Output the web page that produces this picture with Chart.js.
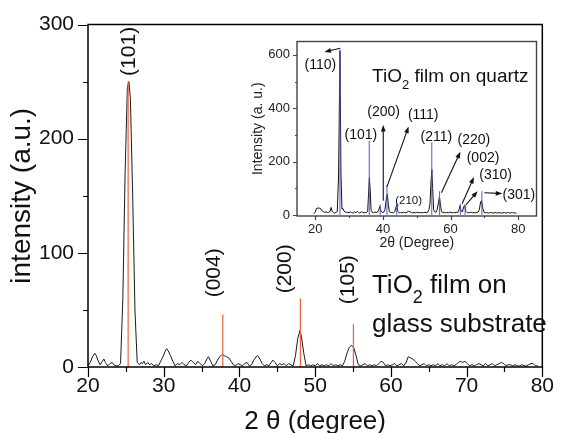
<!DOCTYPE html>
<html lang="en">
<head>
<meta charset="UTF-8">
<title>XRD of TiO2 films</title>
<script src="https://cdn.jsdelivr.net/npm/chart.js"></script>
<style>
    body { margin: 0; background: #fff; }
    .wrap { position: relative; width: 563px; height: 433px; }
    #mainChart { position: absolute; left: 0; top: 0; }
    #insetChart { position: absolute; left: 248px; top: 28px; }
</style>
</head>
<body>
<div class="wrap">
    <canvas id="mainChart" width="563" height="433"></canvas>
    <canvas id="insetChart" width="300" height="228"></canvas>
</div>
<script>
// ---- main pattern: TiO2 film on glass substrate ----
const glassAngle = [20.0, 20.3, 20.6, 20.9, 21.1, 21.3, 21.6, 21.9, 22.1, 22.3, 22.6, 22.9, 23.2, 23.4, 23.7, 24.0, 24.3, 24.6, 24.9, 25.2,
    25.4, 25.6, 25.9, 26.2, 26.5, 26.8, 27.0, 27.2, 27.4, 27.6, 27.9, 28.1, 28.4, 28.7, 29.0, 29.3, 29.6, 29.9, 30.2, 30.4,
    30.6, 30.9, 31.2, 31.5, 31.8, 32.1, 32.4, 32.7, 33.0, 33.3, 33.6, 33.9, 34.2, 34.5, 34.8, 35.1, 35.4, 35.7, 35.9, 36.2,
    36.5, 36.8, 37.1, 37.4, 37.7, 38.0, 38.3, 38.6, 38.9, 39.2, 39.5, 39.8, 40.1, 40.4, 40.7, 41.0, 41.3, 41.6, 41.9, 42.2,
    42.4, 42.7, 43.0, 43.3, 43.6, 43.9, 44.2, 44.4, 44.7, 45.0, 45.3, 45.6, 45.9, 46.2, 46.5, 46.8, 47.1, 47.4, 47.7, 48.0,
    48.2, 48.5, 48.8, 49.1, 49.4, 49.7, 50.0, 50.3, 50.6, 50.9, 51.2, 51.5, 51.8, 52.1, 52.4, 52.7, 53.0, 53.3, 53.6, 53.9,
    54.2, 54.5, 54.8, 55.1, 55.4, 55.7, 56.0, 56.3, 56.6, 56.9, 57.2, 57.5, 57.8, 58.1, 58.4, 58.7, 59.0, 59.3, 59.6, 59.9,
    60.2, 60.5, 60.8, 61.1, 61.4, 61.7, 62.0, 62.3, 62.6, 62.9, 63.2, 63.5, 63.8, 64.1, 64.4, 64.7, 65.0, 65.3, 65.6, 65.9,
    66.2, 66.5, 66.8, 67.1, 67.4, 67.7, 68.0, 68.3, 68.6, 68.9, 69.2, 69.5, 69.8, 70.1, 70.4, 70.7, 71.0, 71.3, 71.6, 71.9,
    72.2, 72.5, 72.8, 73.1, 73.4, 73.7, 74.0, 74.3, 74.6, 74.9, 75.2, 75.5, 75.8, 76.1, 76.4, 76.7, 77.0, 77.3, 77.6, 77.9,
    78.2, 78.5, 78.8, 79.1, 79.4];
const glassIntensity = [1, 4, 9, 12, 10, 6, 2, 5, 7, 4, 1, 3, 4, 2, 1, 1, 3, 60, 170, 245,
    250, 235, 150, 50, 4, 2, 4, 3, 5, 2, 4, 2, 3, 1, 2, 1, 5, 9, 14, 16,
    14, 10, 5, 1, 3, 2, 4, 2, 1, 4, 6, 4, 2, 5, 3, 1, 3, 7, 9, 5,
    1, 2, 6, 9, 11, 10, 9, 8, 5, 2, 1, 3, 2, 1, 3, 4, 1, 2, 6, 9,
    10, 7, 3, 1, 2, 1, 4, 6, 4, 1, 3, 2, 3, 1, 3, 2, 1, 10, 25, 32,
    26, 12, 1, 2, 1, 2, 1, 3, 1, 2, 1, 2, 1, 3, 1, 2, 1, 2, 1, 5,
    12, 17, 19, 17, 10, 2, 1, 2, 3, 1, 2, 1, 2, 1, 3, 5, 4, 1, 2, 1,
    2, 3, 1, 2, 3, 1, 4, 9, 8, 7, 5, 3, 1, 2, 3, 1, 2, 1, 2, 1,
    3, 1, 2, 1, 3, 1, 2, 1, 2, 4, 5, 4, 5, 3, 1, 2, 1, 2, 3, 2,
    1, 3, 1, 2, 3, 1, 2, 3, 4, 3, 1, 2, 2, 1, 2, 1, 1, 2, 1, 1,
    2, 3, 3, 1, 1];
// anatase reference lines
const anataseAngle = [25.3, 37.8, 48.05, 55.05];
const anataseHeight = [250, 46, 60, 37.5];
const anataseHkl = ['(101)', '(004)', '(200)', '(105)'];
const glassXTicks = [20, 30, 40, 50, 60, 70, 80];
const glassXMinor = [25, 35, 45, 55, 65, 75];
const glassYTicks = [0, 100, 200, 300];
const glassYMinor = [50, 150, 250];

// ---- inset: TiO2 film on quartz ----
const quartzAngle = [19.5, 20.0, 20.3, 20.8, 21.3, 21.7, 22.0, 22.4, 22.8, 23.2, 23.6, 24.0, 24.4, 24.7, 25.0, 25.4, 25.8, 26.2, 26.5, 26.9,
    27.3, 27.6, 27.9, 28.2, 28.5, 28.8, 29.2, 29.6, 30.0, 30.4, 30.8, 31.2, 31.6, 32.0, 32.4, 32.8, 33.2, 33.6, 34.0, 34.4,
    34.8, 35.2, 35.5, 35.8, 36.0, 36.25, 36.5, 36.8, 37.2, 37.6, 38.0, 38.4, 38.8, 39.1, 39.4, 39.8, 40.2, 40.6, 41.0, 41.3,
    41.6, 41.9, 42.3, 42.7, 43.1, 43.5, 43.8, 44.1, 44.4, 44.8, 45.2, 45.6, 46.0, 46.4, 46.8, 47.2, 47.6, 48.0, 48.4, 48.8,
    49.2, 49.6, 50.0, 50.4, 50.8, 51.2, 51.6, 52.0, 52.4, 52.8, 53.2, 53.6, 53.9, 54.2, 54.45, 54.7, 55.0, 55.3, 55.7, 56.0,
    56.4, 56.7, 57.0, 57.3, 57.7, 58.1, 58.5, 58.9, 59.3, 59.7, 60.1, 60.5, 60.9, 61.3, 61.7, 62.1, 62.5, 62.8, 63.1, 63.5,
    63.9, 64.2, 64.5, 64.9, 65.3, 65.7, 66.1, 66.5, 66.9, 67.3, 67.7, 68.1, 68.5, 68.9, 69.2, 69.5, 69.9, 70.3, 70.7, 71.1,
    71.5, 71.9, 72.3, 72.7, 73.1, 73.5, 73.9, 74.3, 74.7, 75.1, 75.5, 75.9, 76.3, 76.7, 77.1, 77.5, 77.9, 78.3, 78.7, 79.1,
    79.5];
const quartzIntensity = [5, 10, 24, 26, 25, 22, 15, 12, 10, 11, 9, 10, 13, 28, 14, 8, 7, 10, 12, 150,
    615, 150, 22, 24, 14, 12, 9, 10, 8, 11, 9, 7, 12, 8, 14, 9, 7, 12, 10, 8,
    9, 10, 15, 90, 140, 90, 18, 10, 8, 11, 9, 10, 20, 32, 15, 9, 10, 20, 60, 78,
    40, 12, 9, 10, 8, 12, 26, 38, 14, 8, 9, 8, 10, 9, 8, 11, 14, 12, 9, 8,
    9, 8, 10, 9, 8, 9, 8, 9, 10, 8, 10, 20, 40, 120, 170, 100, 20, 12, 10, 18,
    45, 68, 40, 12, 9, 10, 8, 9, 8, 10, 9, 8, 9, 8, 10, 9, 20, 35, 15, 12,
    30, 35, 14, 9, 8, 9, 10, 8, 9, 8, 9, 10, 20, 50, 53, 25, 10, 8, 9, 7,
    8, 9, 8, 7, 9, 8, 7, 9, 8, 7, 8, 9, 7, 8, 9, 7, 8, 9, 7, 8,
    6];
// rutile reference lines
const rutileAngle = [27.3, 35.95, 39.2, 41.2, 44.1, 54.45, 56.75, 62.9, 64.3, 69.25];
const rutileHeight = [620, 278, 40, 112, 45, 272, 89, 41, 41, 89];
const quartzXTicks = [20, 40, 60, 80];
const quartzXMinor = [30, 50, 70];
const quartzYTicks = [0, 200, 400, 600];
const quartzYMinor = [100, 300, 500];

const FONT = "'Liberation Sans', Arial, sans-serif";

function toPoints(xs, ys) {
    return xs.map((x, i) => ({ x: x, y: ys[i] }));
}
// vertical sticks from zero, separated by gaps
function toSticks(xs, hs) {
    const pts = [];
    xs.forEach((x, i) => {
        pts.push({ x: x, y: 0 }, { x: x, y: hs[i] }, { x: x, y: null });
    });
    return pts;
}

// frame + outward ticks (major and minor) drawn from the scales
function boxPlugin(cfg) {
    return {
        id: 'box',
        afterDatasetsDraw(chart) {
            const { ctx, chartArea: a, scales: { x, y } } = chart;
            ctx.save();
            ctx.strokeStyle = cfg.color;
            ctx.lineWidth = cfg.width;
            ctx.strokeRect(a.left, a.top, a.right - a.left, a.bottom - a.top);
            ctx.beginPath();
            const xt = (list, len) => list.forEach(v => {
                const px = Math.round(x.getPixelForValue(v)) + 0.5;
                ctx.moveTo(px, a.bottom);
                ctx.lineTo(px, a.bottom + len);
            });
            const yt = (list, len) => list.forEach(v => {
                const py = Math.round(y.getPixelForValue(v)) + 0.5;
                ctx.moveTo(a.left, py);
                ctx.lineTo(a.left - len, py);
            });
            xt(cfg.xMajor, cfg.major); xt(cfg.xMinor, cfg.minor);
            yt(cfg.yMajor, cfg.major); yt(cfg.yMinor, cfg.minor);
            ctx.lineWidth = 1.2;
            ctx.stroke();
            ctx.restore();
        }
    };
}

// draws text parts like TiO + subscript 2
function drawParts(ctx, parts, x, y, size) {
    let cx = x;
    parts.forEach(p => {
        if (p.sub) {
            ctx.font = Math.round(size * 0.68) + 'px ' + FONT;
            ctx.fillText(p.t, cx, y + size * 0.36);
        } else {
            ctx.font = size + 'px ' + FONT;
            ctx.fillText(p.t, cx, y);
        }
        cx += ctx.measureText(p.t).width;
    });
}

function textPlugin(items, arrows) {
    return {
        id: 'notes',
        afterDraw(chart) {
            const { ctx, scales: { x, y } } = chart;
            ctx.save();
            ctx.fillStyle = '#111';
            ctx.strokeStyle = '#111';
            (arrows || []).forEach(a => {
                const x0 = x.getPixelForValue(a.from[0]), y0 = y.getPixelForValue(a.from[1]);
                const x1 = x.getPixelForValue(a.to[0]), y1 = y.getPixelForValue(a.to[1]);
                const ang = Math.atan2(y1 - y0, x1 - x0);
                ctx.lineWidth = 1.1;
                ctx.beginPath();
                ctx.moveTo(x0, y0);
                ctx.lineTo(x1 - 4 * Math.cos(ang), y1 - 4 * Math.sin(ang));
                ctx.stroke();
                ctx.beginPath();
                ctx.moveTo(x1, y1);
                ctx.lineTo(x1 - 7 * Math.cos(ang - 0.35), y1 - 7 * Math.sin(ang - 0.35));
                ctx.lineTo(x1 - 7 * Math.cos(ang + 0.35), y1 - 7 * Math.sin(ang + 0.35));
                ctx.closePath();
                ctx.fill();
            });
            items.forEach(it => {
                const px = x.getPixelForValue(it.x), py = y.getPixelForValue(it.y);
                if (it.rotate) {
                    ctx.save();
                    ctx.translate(px, py);
                    ctx.rotate(-Math.PI / 2);
                    ctx.font = it.size + 'px ' + FONT;
                    ctx.textAlign = 'left';
                    ctx.textBaseline = 'middle';
                    ctx.fillText(it.text, 0, 0);
                    ctx.restore();
                } else if (it.parts) {
                    ctx.textAlign = 'left';
                    ctx.textBaseline = 'alphabetic';
                    drawParts(ctx, it.parts, px, py, it.size);
                } else {
                    ctx.font = it.size + 'px ' + FONT;
                    ctx.textAlign = 'center';
                    ctx.textBaseline = 'middle';
                    ctx.fillText(it.text, px, py);
                }
            });
            ctx.restore();
        }
    };
}

// ---- main chart ----
const mainNotes = [
    { text: anataseHkl[0], x: 25.4, y: 255, rotate: true, size: 21 },
    { text: anataseHkl[1], x: 36.7, y: 61, rotate: true, size: 21 },
    { text: anataseHkl[2], x: 46.0, y: 64.5, rotate: true, size: 21 },
    { text: anataseHkl[3], x: 54.4, y: 55, rotate: true, size: 21 },
    { parts: [{ t: 'TiO' }, { t: '2', sub: true }, { t: ' film on' }], x: 57.5, y: 64.5, size: 26 },
    { parts: [{ t: 'glass substrate' }], x: 57.5, y: 30.5, size: 26 }
];

new Chart(document.getElementById('mainChart'), {
    type: 'line',
    data: {
        datasets: [{
            data: toSticks(anataseAngle, anataseHeight),
            borderColor: '#f0603a',
            borderWidth: 1.2,
            pointRadius: 0,
            spanGaps: false
        }, {
            data: toPoints(glassAngle, glassIntensity),
            borderColor: '#1a1a1a',
            borderWidth: 1,
            pointRadius: 0,
            tension: 0
        }]
    },
    options: {
        responsive: false,
        animation: false,
        events: [],
        layout: { padding: { left: 0, top: 23, right: 13, bottom: 0 } },
        plugins: { legend: { display: false }, tooltip: { enabled: false } },
        scales: {
            x: {
                type: 'linear', min: 20, max: 80,
                afterBuildTicks: s => { s.ticks = glassXTicks.map(v => ({ value: v })); },
                afterFit: s => { s.height = 66; },
                grid: { drawOnChartArea: false, drawTicks: false },
                border: { display: false },
                ticks: { color: '#111', padding: 9, font: { family: FONT, size: 21, lineHeight: 1 } },
                title: { display: true, text: '2 θ (degree)', color: '#111', padding: { top: 0, bottom: 1 },
                    font: { family: FONT, size: 26, lineHeight: 0.8 } }
            },
            y: {
                min: 0, max: 300,
                afterBuildTicks: s => { s.ticks = glassYTicks.map(v => ({ value: v })); },
                afterFit: s => { s.width = 88; },
                grid: { drawOnChartArea: false, drawTicks: false },
                border: { display: false },
                ticks: { color: '#111', padding: 14, font: { family: FONT, size: 21, lineHeight: 1 } },
                title: { display: true, text: 'intensity (a.u.)', color: '#111', padding: { top: 8, bottom: 0 },
                    font: { family: FONT, size: 28, lineHeight: 1 } }
            }
        }
    },
    plugins: [
        boxPlugin({ color: '#000', width: 1.5, major: 10, minor: 5,
            xMajor: glassXTicks, xMinor: glassXMinor, yMajor: glassYTicks, yMinor: glassYMinor }),
        textPlugin(mainNotes)
    ]
});

// ---- inset chart ----
const insetNotes = [
    { text: '(110)', x: 21.5, y: 562, size: 14 },
    { text: '(101)', x: 33.5, y: 299, size: 14 },
    { text: '(200)', x: 40.2, y: 384, size: 14 },
    { text: '(111)', x: 51.9, y: 373, size: 14 },
    { text: '(210)', x: 47.6, y: 53, size: 11.5 },
    { text: '(211)', x: 55.8, y: 290, size: 14 },
    { text: '(220)', x: 66.9, y: 280, size: 14 },
    { text: '(002)', x: 69.6, y: 211, size: 14 },
    { text: '(310)', x: 73.3, y: 148, size: 14 },
    { text: '(301)', x: 80.2, y: 75, size: 14 },
    { parts: [{ t: 'TiO' }, { t: '2', sub: true }, { t: ' film on quartz' }], x: 36.8, y: 497, size: 19 }
];
const insetArrows = [
    { from: [27.4, 625], to: [22.7, 611] },
    { from: [40.1, 53], to: [40.1, 337] },
    { from: [41.2, 106], to: [47.6, 331] },
    { from: [57.3, 83], to: [62.9, 237] },
    { from: [63.4, 42], to: [66.9, 142] },
    { from: [64.6, 39], to: [68.0, 89] },
    { from: [70.0, 83], to: [75.3, 80] }
];

new Chart(document.getElementById('insetChart'), {
    type: 'line',
    data: {
        datasets: [{
            data: toSticks(rutileAngle, rutileHeight),
            borderColor: '#4b5cc8',
            borderWidth: 1,
            pointRadius: 0,
            spanGaps: false
        }, {
            data: toPoints(quartzAngle, quartzIntensity),
            borderColor: '#111',
            borderWidth: 1,
            pointRadius: 0,
            tension: 0
        }]
    },
    options: {
        responsive: false,
        animation: false,
        events: [],
        layout: { padding: { left: 0, top: 4, right: 11.5, bottom: 0 } },
        plugins: { legend: { display: false }, tooltip: { enabled: false } },
        scales: {
            x: {
                type: 'linear', min: 14.6, max: 85.4,
                afterBuildTicks: s => { s.ticks = quartzXTicks.map(v => ({ value: v })); },
                afterFit: s => { s.height = 40; },
                grid: { drawOnChartArea: false, drawTicks: false },
                border: { display: false },
                ticks: { color: '#222', padding: 6.5, font: { family: FONT, size: 13, lineHeight: 1 } },
                title: { display: true, text: '2θ (Degree)', color: '#222', padding: { top: 0, bottom: 6 },
                    font: { family: FONT, size: 14, lineHeight: 1 } }
            },
            y: {
                min: -4, max: 650,
                afterBuildTicks: s => { s.ticks = quartzYTicks.map(v => ({ value: v })); },
                afterFit: s => { s.width = 49; },
                grid: { drawOnChartArea: false, drawTicks: false },
                border: { display: false },
                ticks: { color: '#222', padding: 7, font: { family: FONT, size: 13, lineHeight: 1 } },
                title: { display: true, text: 'Intensity (a. u.)', color: '#222', padding: { top: 3, bottom: 0 },
                    font: { family: FONT, size: 14, lineHeight: 1 } }
            }
        }
    },
    plugins: [
        boxPlugin({ color: '#444', width: 1.4, major: 4, minor: 2,
            xMajor: quartzXTicks, xMinor: quartzXMinor, yMajor: quartzYTicks, yMinor: quartzYMinor }),
        textPlugin(insetNotes, insetArrows)
    ]
});
</script>
</body>
</html>
